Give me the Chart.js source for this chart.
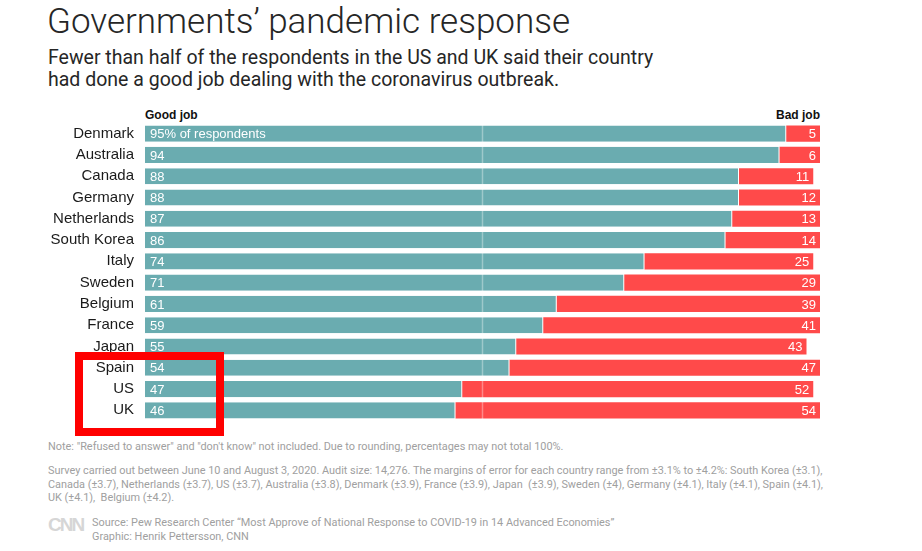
<!DOCTYPE html>
<html>
<head>
<meta charset="utf-8">
<script src="https://cdn.jsdelivr.net/npm/chart.js@4/dist/chart.umd.min.js"></script>
<style>
  body { margin: 0; background: #fff; font-family: Roboto, "Liberation Sans", Arial, sans-serif; }
  #wrap { position: relative; width: 922px; height: 551px; overflow: hidden; }
  .t { position: absolute; white-space: nowrap; }
  #title { left: 47px; top: 1px; font-size: 35px; font-weight: 300; color: #262626; }
  #sub { left: 48px; top: 47px; font-size: 19.5px; line-height: 22px; color: #262626; font-weight: 400; }
  .head { top: 108px; font-size: 12px; font-weight: 700; color: #111; font-family: "Liberation Sans", Arial, sans-serif; }
  .note { left: 48px; font-size: 10.9px; color: #a0a0a0; line-height: 13.5px; }
  #chartBox { position: absolute; left: 0; top: 123px; width: 922px; height: 298px; }
  #box { position: absolute; left: 75px; top: 352px; width: 133px; height: 68px; border: 8px solid #ff0000; }
  #logo { left: 48px; top: 514px; font-size: 19px; font-weight: 900; color: #d6d6d6; letter-spacing: -2px; font-family: "Liberation Sans", Arial, sans-serif; }
</style>
</head>
<body>
<div id="wrap">
  <div class="t" id="title">Governments’ pandemic response</div>
  <div class="t" id="sub">Fewer than half of the respondents in the US and UK said their country<br>had done a good job dealing with the coronavirus outbreak.</div>
  <div class="t head" style="left:145px">Good job</div>
  <div class="t head" style="right:102px">Bad job</div>
  <div id="chartBox"><canvas id="govChart"></canvas></div>
  <div id="box"></div>
  <div class="t note" style="top:440px">Note: "Refused to answer" and "don't know" not included. Due to rounding, percentages may not total 100%.</div>
  <div class="t note" style="top:464px">Survey carried out between June 10 and August 3, 2020. Audit size: 14,276. The margins of error for each country range from ±3.1% to ±4.2%: South Korea (±3.1),<br>Canada (±3.7), Netherlands (±3.7), US (±3.7), Australia (±3.8), Denmark (±3.9), France (±3.9), Japan&nbsp; (±3.9), Sweden (±4), Germany (±4.1), Italy (±4.1), Spain (±4.1),<br>UK (±4.1),&nbsp; Belgium (±4.2).</div>
  <div class="t" id="logo">CNN</div>
  <div class="t note" style="left:92px;top:516px">Source: Pew Research Center “Most Approve of National Response to COVID-19 in 14 Advanced Economies”<br>Graphic: Henrik Pettersson, CNN</div>
</div>
<script>
const countries = ['Denmark', 'Australia', 'Canada', 'Germany', 'Netherlands', 'South Korea', 'Italy', 'Sweden', 'Belgium', 'France', 'Japan', 'Spain', 'US', 'UK'];
const goodJob = [95, 94, 88, 88, 87, 86, 74, 71, 61, 59, 55, 54, 47, 46];
const badJob = [5, 6, 11, 12, 13, 14, 25, 29, 39, 41, 43, 47, 52, 54];

const TEAL = '#6aacb0';
const RED = '#ff4a4a';

// midline at 50% and the value labels inside the bars
const barLabels = {
  id: 'barLabels',
  afterDatasetsDraw(chart) {
    const { ctx, chartArea, scales } = chart;
    const mid = scales.x.getPixelForValue(50);
    ctx.save();
    ctx.strokeStyle = 'rgba(255,255,255,0.35)';
    ctx.lineWidth = 1.5;
    ctx.beginPath();
    ctx.moveTo(mid, chartArea.top);
    ctx.lineTo(mid, chartArea.bottom);
    ctx.stroke();

    ctx.fillStyle = '#fff';
    ctx.font = '13px "Liberation Sans", Arial, sans-serif';
    ctx.textBaseline = 'middle';
    chart.getDatasetMeta(0).data.forEach((bar, i) => {
      ctx.textAlign = 'left';
      const txt = i === 0 ? goodJob[i] + '% of respondents' : String(goodJob[i]);
      ctx.fillText(txt, bar.base + 5, bar.y + 1);
    });
    chart.getDatasetMeta(1).data.forEach((bar, i) => {
      ctx.textAlign = 'right';
      ctx.fillText(String(badJob[i]), Math.min(bar.x, chartArea.right) - 4, bar.y + 1);
    });
    ctx.restore();
  }
};

new Chart(document.getElementById('govChart'), {
  type: 'bar',
  data: {
    labels: countries,
    datasets: [
      { label: 'Good job', data: goodJob, backgroundColor: TEAL, borderColor: 'rgba(255,255,255,0.5)', borderWidth: { right: 1 } },
      { label: 'Bad job', data: badJob, backgroundColor: RED }
    ]
  },
  options: {
    indexAxis: 'y',
    responsive: true,
    maintainAspectRatio: false,
    animation: false,
    layout: { padding: { left: 0, right: 102, top: 0, bottom: 0 } },
    datasets: { bar: { barPercentage: 0.76, categoryPercentage: 1 } },
    plugins: {
      legend: { display: false },
      tooltip: { enabled: false }
    },
    scales: {
      x: {
        stacked: true,
        min: 0,
        max: 100,
        display: false
      },
      y: {
        stacked: true,
        afterFit(scale) {
          scale.width = 145;
          scale.paddingTop = 0;
          scale.paddingBottom = 0;
        },
        grid: { display: false },
        border: { display: false },
        ticks: {
          padding: 3,
          color: '#1a1a1a',
          font: { family: '"Liberation Sans", Arial, sans-serif', size: 15 }
        }
      }
    }
  },
  plugins: [barLabels]
});
</script>
</body>
</html>
